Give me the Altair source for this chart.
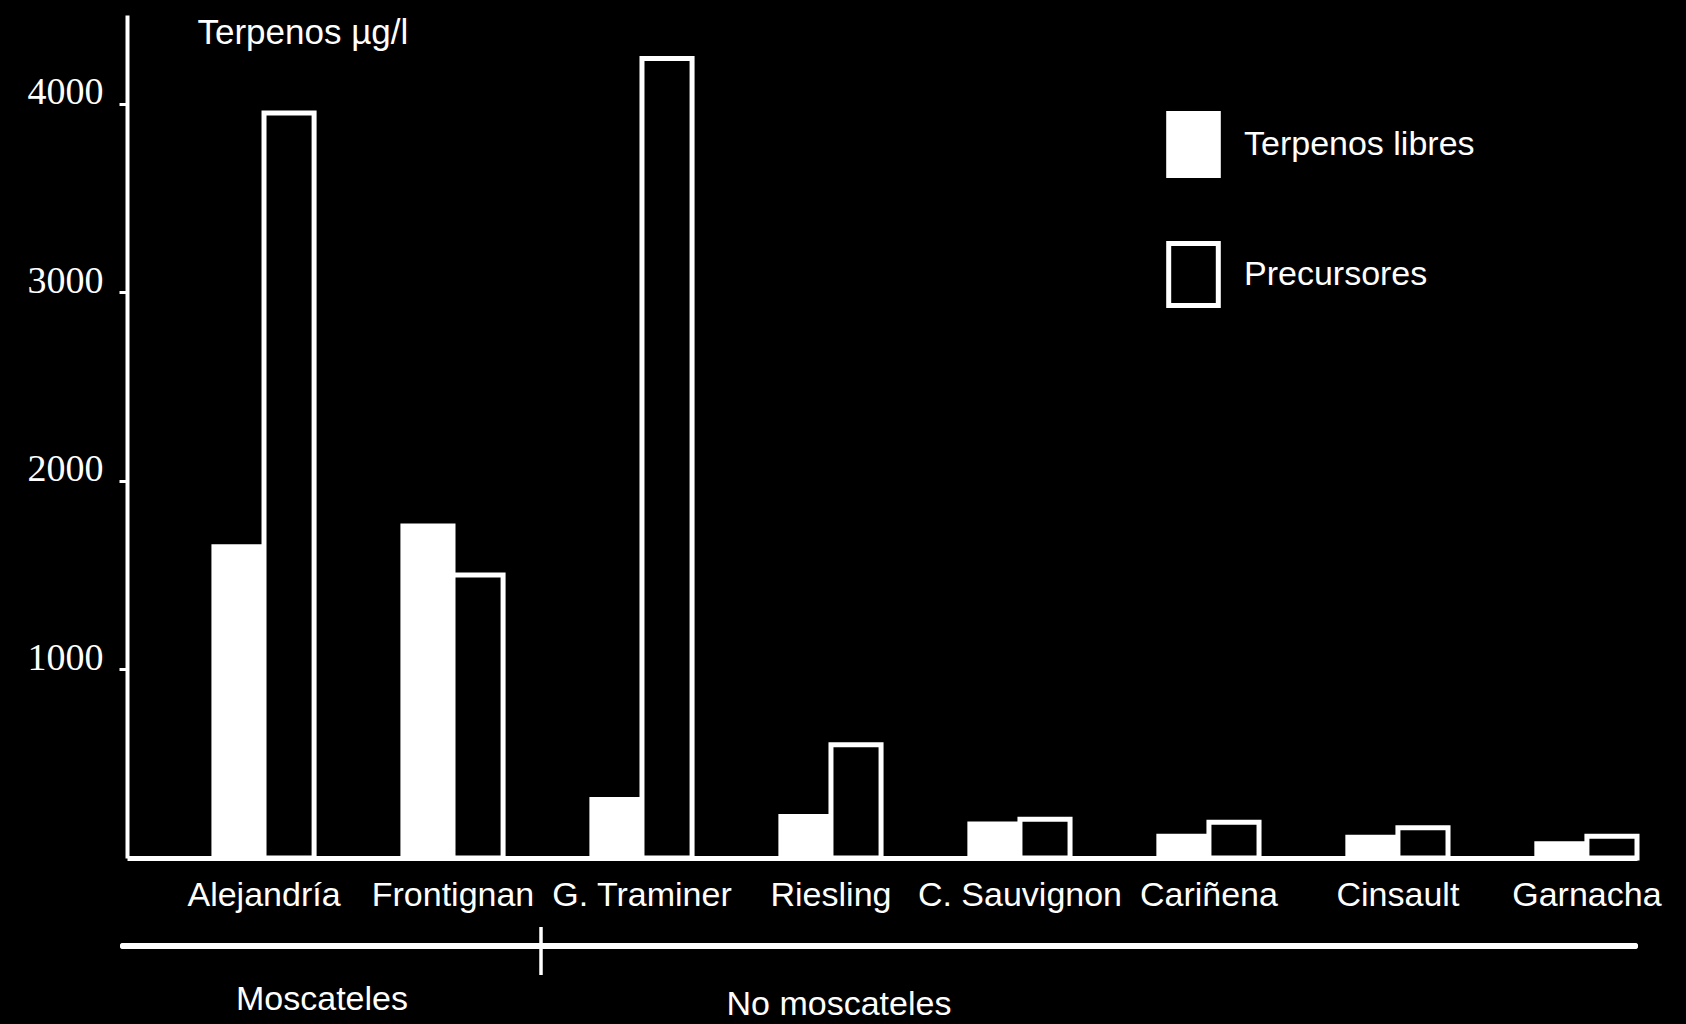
import altair as alt
import pandas as pd

variedades = ["Alejandría", "Frontignan", "G. Traminer", "Riesling",
              "C. Sauvignon", "Cariñena", "Cinsault", "Garnacha"]
libres = [1650, 1760, 310, 220, 180, 115, 110, 75]
precursores = [3950, 1500, 4240, 600, 205, 190, 160, 115]
series = ["Terpenos libres", "Precursores"]
y_ticks = [1000, 2000, 3000, 4000]
grupos = ["Moscateles", "No moscateles"]

rows = []
for v, l, p in zip(variedades, libres, precursores):
    rows.append({"variedad": v, "serie": series[0], "valor": l})
    rows.append({"variedad": v, "serie": series[1], "valor": p})
df = pd.DataFrame(rows)
df_g = pd.DataFrame({"grupo": grupos})

W, H = 1510, 843
SANS = "Liberation Sans"

bars = alt.Chart(df).mark_bar(stroke="white", strokeWidth=5).encode(
    x=alt.X("variedad:N", sort=variedades,
            scale=alt.Scale(paddingInner=0.47, paddingOuter=0.23, align=1),
            axis=alt.Axis(title=None, labelAngle=0, ticks=False, labelFont=SANS,
                          labelFontSize=34, labelColor="white", labelPadding=20,
                          labelLimit=1000, labelOverlap=False,
                          labelBaseline="top", domainColor="white", domainWidth=5)),
    xOffset=alt.XOffset("serie:N", sort=series,
                        scale=alt.Scale(paddingInner=0, paddingOuter=0)),
    y=alt.Y("valor:Q", scale=alt.Scale(domain=[0, 4470], nice=False),
            axis=alt.Axis(values=y_ticks, format="d", grid=False,
                          title="Terpenos µg/l",
                          titleAngle=0, titleAlign="left", titleX=70, titleY=28,
                          titleBaseline="alphabetic", titleFont=SANS,
                          titleFontSize=35, titleFontWeight="normal",
                          titleColor="white", labelFont="Liberation Serif",
                          labelFontSize=38, labelFontWeight="normal",
                          labelColor="white", labelBaseline="alphabetic",
                          labelPadding=16, tickSize=8, tickWidth=3,
                          tickColor="white", domainColor="white", domainWidth=4)),
    fill=alt.Fill("serie:N", sort=series,
                  scale=alt.Scale(domain=series, range=["white", "black"]),
                  legend=alt.Legend(title=None, orient="none", legendX=1033,
                                    legendY=96,
                                    symbolType="M-0.8,-1L0.8,-1L0.8,1L-0.8,1Z",
                                    symbolSize=3844, symbolStrokeColor="white",
                                    symbolStrokeWidth=5, symbolOpacity=1,
                                    labelFont=SANS, labelFontSize=34,
                                    labelColor="white", rowPadding=47,
                                    labelOffset=17, padding=0, labelLimit=400)),
)

line = alt.Chart(df_g).mark_rule(color="white", strokeWidth=6, strokeCap="round").encode(
    x=alt.value(-4), x2=alt.value(1508), y=alt.value(931)
)
divider = alt.Chart(df_g).mark_rule(color="white", strokeWidth=3).encode(
    x=alt.value(414), y=alt.value(912), y2=alt.value(960)
)
g1 = alt.Chart(df_g).transform_filter(alt.datum.grupo == grupos[0]).mark_text(
    font=SANS, fontSize=34, color="white", baseline="middle", align="center"
).encode(text="grupo:N", x=alt.value(195), y=alt.value(985))
g2 = alt.Chart(df_g).transform_filter(alt.datum.grupo == grupos[1]).mark_text(
    font=SANS, fontSize=34, color="white", baseline="middle", align="center"
).encode(text="grupo:N", x=alt.value(712), y=alt.value(990))

chart = alt.layer(bars, line, divider, g1, g2).properties(
    width=W, height=H,
    autosize=alt.AutoSizeParams(type="none"),
    padding={"left": 127, "top": 15, "right": 49, "bottom": 166},
    background="black",
).configure_view(stroke=None)

chart.save("out.html", embed_options={"renderer": "svg", "actions": False})
